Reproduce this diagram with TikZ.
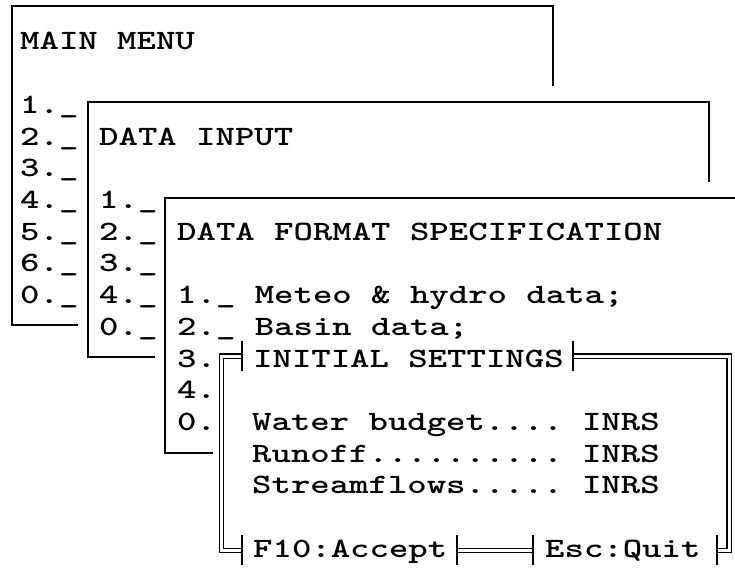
\documentclass[tikz,border=0pt]{standalone}
\usepackage{graphicx}
\newcommand{\wide}[1]{\scalebox{1.32}[1]{#1}}
\tikzset{
  scr/.style={anchor=base west, inner sep=0pt,
    font=\fontsize{28}{30}\selectfont\ttfamily\bfseries\frenchspacing},
  frame/.style={line width=2.2pt},
  dbl/.style={double, double distance=3pt, line width=1.2pt},
  tee/.style={line width=1.6pt}
}
\begin{document}
\begin{tikzpicture}[x=1pt,y=-1pt]
\useasboundingbox (0,0) rectangle (735,569);

% main menu
\draw[frame] (78,325) -- (12,325) -- (12,6) -- (553,6) -- (553,86);
\node[scr] (mainT) at (20,50) {\wide{MAIN MENU}};
\foreach \t [count=\k from 2] in {1,2,3,4,5,6,0}
  \node[scr] (main\t) at (20,{50+31.7*\k}) {\wide{\t.\_}};

% data input
\draw[frame] (155,357) -- (88,357) -- (88,102) -- (709,102) -- (709,182);
\node[scr] (inT) at (99,{50+31.7*3}) {\wide{DATA INPUT}};
\foreach \t [count=\k from 5] in {1,2,3,4,0}
  \node[scr] (in\t) at (99,{50+31.7*\k}) {\wide{\t.\_}};

% data format specification
\draw[frame] (213,453) -- (165,453) -- (165,198) -- (735,198);
\node[scr] (fmtT) at (177,{50+31.7*6}) {\wide{DATA FORMAT SPECIFICATION}};
\node[scr] (fmt1) at (177,{50+31.7*8}) {\wide{1.\_ Meteo \& hydro data;}};
\node[scr] (fmt2) at (177,{50+31.7*9}) {\wide{2.\_ Basin data;}};
\foreach \t [count=\k from 10] in {3,4,0}
  \node[scr] (fmt\t) at (177,{50+31.7*\k}) {\wide{\t.}};

% initial settings
\draw[dbl] (242,356) -- (221.5,356) -- (221.5,550.5) -- (242,550.5);
\draw[dbl] (573,356) -- (729,356) -- (729,550.5) -- (717,550.5);
\draw[dbl] (457,550.5) -- (533,550.5);
\foreach \x/\y in {242/356,573/356,242/550,457/550,533/550,717/550}
  \draw[tee] (\x,{\y-15}) -- (\x,{\y+15});
\node[scr] (setT) at (253,{50+31.7*10}) {\wide{INITIAL SETTINGS}};
\node[scr] (water) at (252,{50+31.7*12}) {\wide{Water budget.... INRS}};
\node[scr] (runoff) at (252,{50+31.7*13}) {\wide{Runoff.......... INRS}};
\node[scr] (flows) at (252,{50+31.7*14}) {\wide{Streamflows..... INRS}};
\node[scr] (accept) at (253,{50+31.7*16}) {\wide{F10:Accept}};
\node[scr] (quit) at (545,{50+31.7*16}) {\wide{Esc:Quit}};
\end{tikzpicture}
\end{document}
